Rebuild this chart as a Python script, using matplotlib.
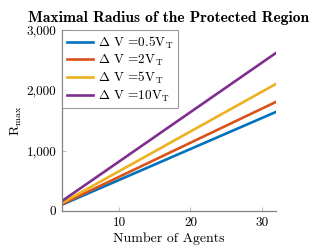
import matplotlib
matplotlib.use("Agg")
import matplotlib.pyplot as plt
from matplotlib.ticker import FuncFormatter

agents = [2, 32]
r_05 = [103, 1642]
r_2 = [113, 1808]
r_5 = [132, 2106]
r_10 = [164, 2620]
labels = [r'$\Delta$ V =0.5V$_{\mathrm{T}}$', r'$\Delta$ V =2V$_{\mathrm{T}}$',
          r'$\Delta$ V =5V$_{\mathrm{T}}$', r'$\Delta$ V =10V$_{\mathrm{T}}$']
colors = ['#0072BD', '#D95319', '#EDB120', '#7E2F8E']

plt.rcParams['font.family'] = ['cmr10', 'DejaVu Serif']
plt.rcParams['mathtext.fontset'] = 'cm'
plt.rcParams['axes.unicode_minus'] = False

fig = plt.figure(figsize=(3.18, 2.52), dpi=100)
ax = fig.add_axes([0.195, 0.163, 0.673, 0.718])

for y, lab, c in zip([r_05, r_2, r_5, r_10], labels, colors):
    ax.plot(agents, y, color=c, lw=1.9, label=lab)

ax.set_xlim(2, 32)
ax.set_ylim(0, 3000)
ax.set_xticks([10, 20, 30])
ax.set_yticks([0, 1000, 2000, 3000])
ax.yaxis.set_major_formatter(FuncFormatter(lambda v, p: f"{int(v):,}"))
for s in ['top', 'right']:
    ax.spines[s].set_visible(False)
for s in ['left', 'bottom']:
    ax.spines[s].set_color('#808080')
    ax.spines[s].set_linewidth(0.9)
ax.tick_params(direction='in', length=3, color='#c0c0c0', labelsize=9.5, pad=4)

ax.set_xlabel('Number of Agents', fontsize=10, labelpad=3)
ax.set_ylabel(r'$\mathrm{R}_{\max}$', fontsize=10, labelpad=2)
ax.set_title('Maximal Radius of the Protected Region', fontsize=11.2,
             fontfamily='cmb10', pad=6)

leg = ax.legend(loc='upper left', bbox_to_anchor=(0.0, 1.0), borderaxespad=0,
                fontsize=9.5, frameon=True, fancybox=False, handlelength=2.0,
                handletextpad=0.4, labelspacing=0.15, borderpad=0.35)
leg.get_frame().set_edgecolor('#808080')
leg.get_frame().set_linewidth(0.8)

fig.savefig('out.png', dpi=100)
